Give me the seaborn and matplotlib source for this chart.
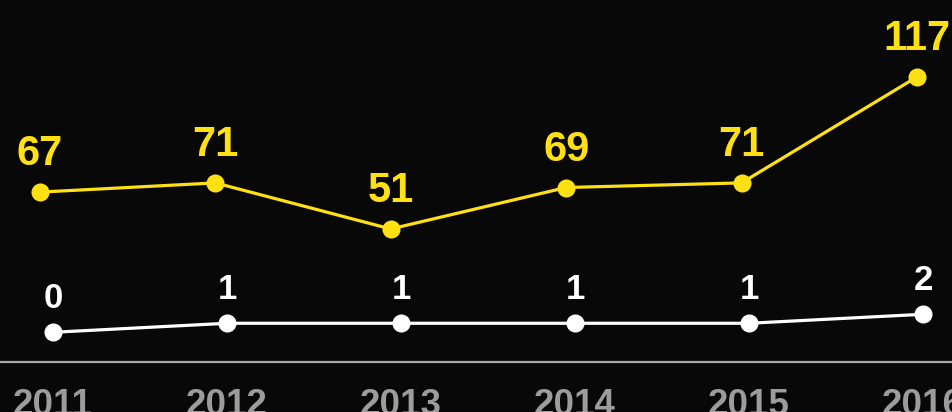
import matplotlib
matplotlib.use("Agg")
import matplotlib.pyplot as plt
import seaborn as sns
import pandas as pd

# chart data
years = ["2011", "2012", "2013", "2014", "2015", "2016"]
yellow_values = [67, 71, 51, 69, 71, 117]
white_values = [0, 1, 1, 1, 1, 2]

BG = "#080808"
YELLOW = "#FFE012"
WHITE = "#FFFFFF"
GREY_LINE = "#A9A9A9"
GREY_TEXT = "#9C9C9C"

sns.set_style("dark", {"axes.facecolor": BG, "figure.facecolor": BG})
plt.rcParams["font.family"] = ["Liberation Sans", "DejaVu Sans"]

df = pd.DataFrame({"idx": range(len(years)), "year": years,
                   "yellow": yellow_values, "white": white_values})

fig = plt.figure(figsize=(9.52, 4.12), dpi=100)
fig.patch.set_facecolor(BG)
rect = [0, 50 / 412, 1, 362 / 412]

# white series + year axis
ax = fig.add_axes(rect)
ax.set_facecolor(BG)
sns.lineplot(data=df, x="idx", y="white", ax=ax, color=WHITE, linewidth=2.3,
             marker="o", markersize=13, markeredgewidth=0, clip_on=False)
ax.set_xlim(-0.305, 5.167)
ax.set_ylim(-3.3, 36.9)
for i, v in zip(df["idx"], df["white"]):
    ax.annotate(str(v), (i, v), xytext=(0, 17.3), textcoords="offset points",
                ha="center", va="baseline", color=WHITE, fontsize=25,
                fontweight="bold", annotation_clip=False)

ax.set_xticks(df["idx"])
ax.set_xticklabels(years, fontsize=26.5, fontweight="bold", color=GREY_TEXT)
ax.tick_params(axis="x", length=0, pad=18.5)
ax.set_yticks([])
ax.set_xlabel("")
ax.set_ylabel("")
ax.grid(False)
for s in ["top", "left", "right"]:
    ax.spines[s].set_visible(False)
ax.spines["bottom"].set_visible(True)
ax.spines["bottom"].set_color(GREY_LINE)
ax.spines["bottom"].set_linewidth(1.6)

# yellow series on its own overlay axes
ax2 = fig.add_axes(rect)
ax2.patch.set_alpha(0)
sns.lineplot(data=df, x="idx", y="yellow", ax=ax2, color=YELLOW, linewidth=2.3,
             marker="o", markersize=13, markeredgewidth=0, clip_on=False)
ax2.set_xlim(-0.228, 5.2)
ax2.set_ylim(-6.75, 150.4)
for i, v in zip(df["idx"], df["yellow"]):
    ax2.annotate(str(v), (i, v), xytext=(0, 19.4), textcoords="offset points",
                 ha="center", va="baseline", color=YELLOW, fontsize=30,
                 fontweight="bold", annotation_clip=False)
ax2.axis("off")

fig.savefig("out.png", dpi=100, facecolor=BG)
